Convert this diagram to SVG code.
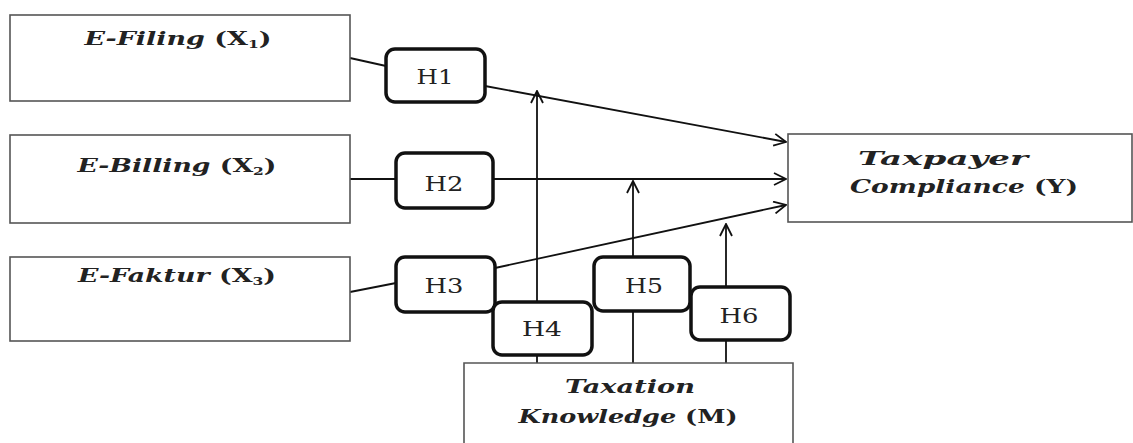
<svg xmlns="http://www.w3.org/2000/svg" width="1133" height="443" viewBox="0 0 1133 443">
<defs>
<marker id="arr" markerWidth="14" markerHeight="14" refX="13" refY="7" orient="auto" markerUnits="userSpaceOnUse">
<path d="M1,1 L13,7 L1,13" fill="none" stroke="#111" stroke-width="1.8"/>
</marker>
<style>
.box{fill:#fff;stroke:#555;stroke-width:1.6}
.hyp{fill:#fff;stroke:#111;stroke-width:3.5}
.ln{fill:none;stroke:#111;stroke-width:1.8}
.lbl{font-family:"DejaVu Serif","Liberation Serif",serif;font-size:19px;font-weight:bold;font-style:italic;fill:#222;text-anchor:middle}
.sub{font-style:normal}
.h{font-family:"DejaVu Serif","Liberation Serif",serif;font-size:21px;fill:#222;text-anchor:middle}
</style>
</defs>
<rect width="1133" height="443" fill="#fff"/>
<g id="connectors">
<line class="ln" x1="350" y1="58" x2="386" y2="66"/>
<line class="ln" x1="350" y1="179" x2="396" y2="179"/>
<line class="ln" x1="350" y1="292" x2="396" y2="283"/>
<line class="ln" x1="485" y1="86" x2="786" y2="142" marker-end="url(#arr)"/>
<line class="ln" x1="493" y1="179" x2="786" y2="179" marker-end="url(#arr)"/>
<line class="ln" x1="495" y1="268" x2="786" y2="205" marker-end="url(#arr)"/>
<line class="ln" x1="537" y1="363" x2="537" y2="91" marker-end="url(#arr)"/>
<line class="ln" x1="633" y1="363" x2="633" y2="181" marker-end="url(#arr)"/>
<line class="ln" x1="726" y1="363" x2="726" y2="224" marker-end="url(#arr)"/>
</g>
<g id="x1"><rect class="box" x="10" y="15" width="340" height="86"/>
<text class="lbl" x="178" y="45" textLength="187" lengthAdjust="spacingAndGlyphs">E-Filing <tspan class="sub">(X<tspan font-size="11" dy="3">1</tspan><tspan dy="-3">)</tspan></tspan></text></g>
<g id="x2"><rect class="box" x="10" y="135" width="340" height="88"/>
<text class="lbl" x="177" y="172" textLength="199" lengthAdjust="spacingAndGlyphs">E-Billing <tspan class="sub">(X<tspan font-size="11" dy="3">2</tspan><tspan dy="-3">)</tspan></tspan></text></g>
<g id="x3"><rect class="box" x="10" y="257" width="340" height="84"/>
<text class="lbl" x="177" y="282" textLength="198" lengthAdjust="spacingAndGlyphs">E-Faktur <tspan class="sub">(X<tspan font-size="11" dy="3">3</tspan><tspan dy="-3">)</tspan></tspan></text></g>
<g id="y"><rect class="box" x="788" y="134" width="344" height="88"/>
<text class="lbl" x="943" y="165" textLength="170" lengthAdjust="spacingAndGlyphs">Taxpayer</text>
<text class="lbl" x="964" y="193" textLength="228" lengthAdjust="spacingAndGlyphs">Compliance <tspan class="sub">(Y)</tspan></text></g>
<g id="m"><path class="box" d="M464,443 V363 H793 V443"/>
<text class="lbl" x="630" y="393" textLength="130" lengthAdjust="spacingAndGlyphs">Taxation</text>
<text class="lbl" x="628" y="423" textLength="219" lengthAdjust="spacingAndGlyphs">Knowledge <tspan class="sub">(M)</tspan></text></g>
<g id="h1"><rect class="hyp" x="386" y="49" width="99" height="53" rx="9"/><text class="h" x="435" y="84" textLength="37" lengthAdjust="spacingAndGlyphs">H1</text></g>
<g id="h2"><rect class="hyp" x="396" y="153" width="97" height="55" rx="9"/><text class="h" x="444" y="191" textLength="39" lengthAdjust="spacingAndGlyphs">H2</text></g>
<g id="h3"><rect class="hyp" x="396" y="257" width="99" height="55" rx="9"/><text class="h" x="444" y="293" textLength="39" lengthAdjust="spacingAndGlyphs">H3</text></g>
<g id="h4"><rect class="hyp" x="493" y="302" width="99" height="53" rx="9"/><text class="h" x="542" y="336" textLength="40" lengthAdjust="spacingAndGlyphs">H4</text></g>
<g id="h5"><rect class="hyp" x="594" y="257" width="96" height="54" rx="9"/><text class="h" x="644" y="293" textLength="38" lengthAdjust="spacingAndGlyphs">H5</text></g>
<g id="h6"><rect class="hyp" x="691" y="287" width="99" height="53" rx="9"/><text class="h" x="739" y="323" textLength="39" lengthAdjust="spacingAndGlyphs">H6</text></g>
</svg>
